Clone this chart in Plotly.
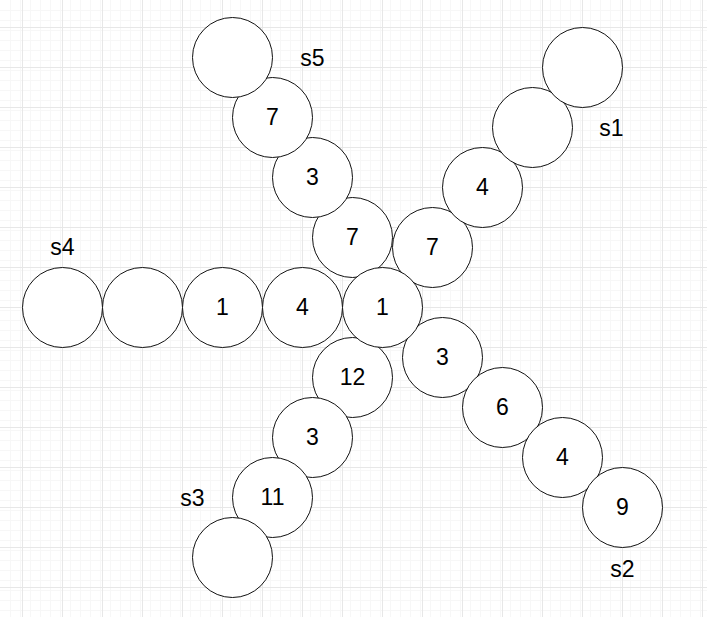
import plotly.graph_objects as go

# --- data: the number written in each circle, hub outward (None = empty circle)
hub_value = 1
series_names = ["s1", "s2", "s3", "s4", "s5"]
s1_values = [7, 4, None, None]
s2_values = [3, 6, 4, 9]
s3_values = [12, 3, 11, None]
s4_values = [4, 1, None, None]
s5_values = [7, 3, 7, None]

# --- layout of the diagram (page pixels): hub, step of each arm, label offset
HUB = (382, 307)
ARM_STEPS = {
    "s1": [(50, -60)] * 4,
    "s2": [(60, 50)] * 4,
    "s3": [(-30, 70)] + [(-40, 60)] * 3,
    "s4": [(-80, 0)] * 4,
    "s5": [(-30, -70)] + [(-40, -60)] * 3,
}
LABEL_OFFSET = {
    "s1": (29, 63),
    "s2": (0, 64),
    "s3": (-40, -57),
    "s4": (0, -58),
    "s5": (80, 3),
}
TEXT_NUDGE = 1.5  # plotly centres text slightly high
W, H = 707, 617
RADIUS = 40
FONT = dict(family="Liberation Sans, Arial", size=23, color="#000")

series_values = dict(zip(series_names, [s1_values, s2_values, s3_values,
                                        s4_values, s5_values]))

fig = go.Figure()


def circle_traces(xs, ys, labels):
    circles = go.Scatter(
        x=xs, y=ys, mode="markers",
        marker=dict(size=2 * RADIUS, color="white",
                    line=dict(color="#111", width=1)),
        hoverinfo="skip", showlegend=False,
    )
    numbers = go.Scatter(
        x=xs, y=[v + TEXT_NUDGE for v in ys], mode="text",
        text=["" if v is None else str(v) for v in labels],
        textposition="middle center", textfont=FONT,
        hoverinfo="skip", showlegend=False,
    )
    return circles, numbers


label_x, label_y = [], []
for name in series_names:
    x, y = HUB
    xs, ys = [], []
    for dx, dy in ARM_STEPS[name]:
        x, y = x + dx, y + dy
        xs.append(x)
        ys.append(y)
    fig.add_traces(circle_traces(xs, ys, series_values[name]))
    ox, oy = LABEL_OFFSET[name]
    label_x.append(xs[-1] + ox)
    label_y.append(ys[-1] + oy)

# hub on top
fig.add_traces(circle_traces([HUB[0]], [HUB[1]], [hub_value]))

fig.add_trace(go.Scatter(
    x=label_x, y=label_y, mode="text", text=series_names,
    textposition="middle center", textfont=FONT,
    hoverinfo="skip", showlegend=False,
))

axis_common = dict(
    showgrid=True, gridcolor="#e7e7e7", gridwidth=1, dtick=40,
    minor=dict(showgrid=True, gridcolor="#f7f7f7", gridwidth=1, dtick=10),
    zeroline=False, showticklabels=False, ticks="", showline=False,
    fixedrange=True,
)
fig.update_xaxes(range=[-0.5, W - 0.5], tick0=22, **axis_common)
fig.update_yaxes(range=[H - 0.5, -0.5], tick0=27, **axis_common)

fig.update_layout(
    width=W, height=H, margin=dict(l=0, r=0, t=0, b=0),
    plot_bgcolor="white", paper_bgcolor="white",
)

fig.write_html("out.html", config={"displayModeBar": False},
               post_script="document.body.style.margin='0';")
